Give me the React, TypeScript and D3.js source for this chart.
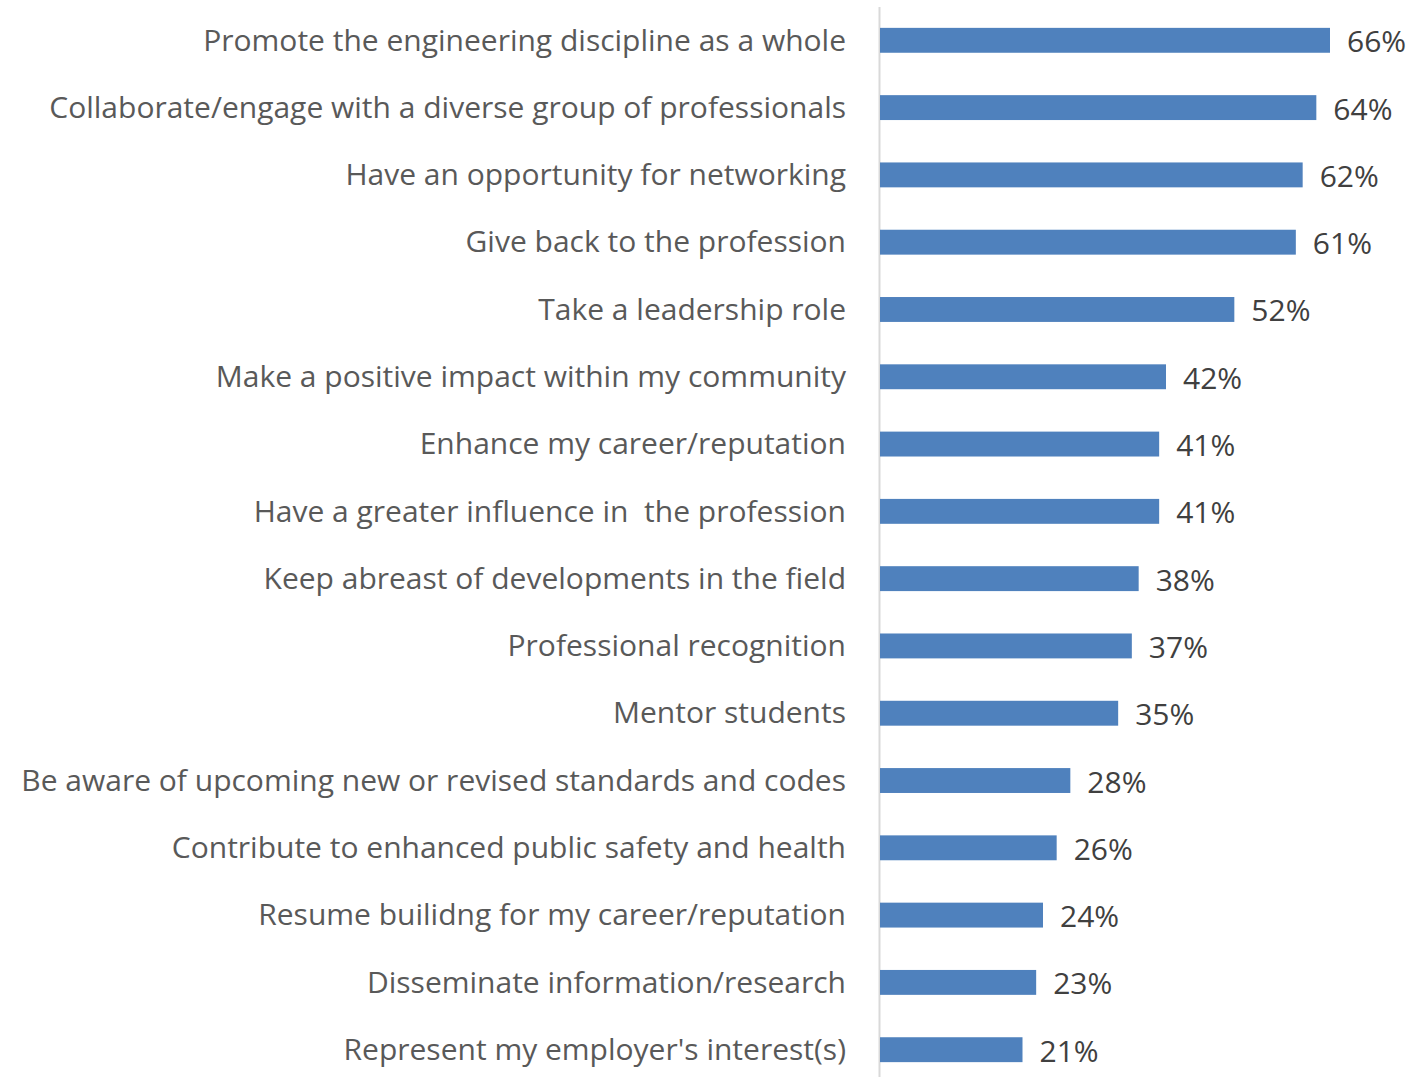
import React, { useEffect, useRef } from 'react';
import * as d3 from 'd3';

const categories = [
  'Promote the engineering discipline as a whole',
  'Collaborate/engage with a diverse group of professionals',
  'Have an opportunity for networking',
  'Give back to the profession',
  'Take a leadership role',
  'Make a positive impact within my community',
  'Enhance my career/reputation',
  'Have a greater influence in  the profession',
  'Keep abreast of developments in the field',
  'Professional recognition',
  'Mentor students',
  'Be aware of upcoming new or revised standards and codes',
  'Contribute to enhanced public safety and health',
  'Resume builidng for my career/reputation',
  'Disseminate information/research',
  "Represent my employer's interest(s)",
];

const values = [66, 64, 62, 61, 52, 42, 41, 41, 38, 37, 35, 28, 26, 24, 23, 21];

const App: React.FC = () => {
  const svgRef = useRef<SVGSVGElement>(null);

  useEffect(() => {
    const width = 1424;
    const height = 1077;
    const x0 = 879;

    const svg = d3.select(svgRef.current)
      .attr('width', width)
      .attr('height', height)
      .style('position', 'absolute')
      .style('left', 0)
      .style('top', 0);
    svg.selectAll('*').remove();

    const x = d3.scaleLinear().domain([0, 66]).range([x0, 1330]);
    const y = d3.scaleBand()
      .domain(categories)
      .range([7, 1083])
      .paddingInner(0.63)
      .paddingOuter(0.31);

    const data = categories.map((c, i) => ({ c, v: values[i] }));

    svg.append('line')
      .attr('x1', x0 + 0.5).attr('x2', x0 + 0.5)
      .attr('y1', 7).attr('y2', 1077)
      .attr('stroke', '#d9d9d9')
      .attr('stroke-width', 2);

    svg.selectAll('.bar')
      .data(data)
      .enter().append('rect')
      .attr('class', 'bar')
      .attr('x', x0 + 1)
      .attr('y', d => y(d.c)!)
      .attr('width', d => x(d.v) - x0 - 1)
      .attr('height', y.bandwidth())
      .attr('fill', '#4f81bd');

    svg.selectAll('.cat')
      .data(data)
      .enter().append('text')
      .attr('class', 'cat')
      .attr('x', 846)
      .attr('y', d => y(d.c)! + y.bandwidth() / 2)
      .attr('dy', '0.34em')
      .attr('text-anchor', 'end')
      .attr('font-family', 'Open Sans, sans-serif')
      .attr('font-size', 30)
      .attr('fill', '#595959')
      .style('white-space', 'pre')
      .text(d => d.c);

    svg.selectAll('.val')
      .data(data)
      .enter().append('text')
      .attr('class', 'val')
      .attr('x', d => x(d.v) + 17)
      .attr('y', d => y(d.c)! + y.bandwidth() / 2)
      .attr('dy', '0.4em')
      .attr('font-family', 'Open Sans, sans-serif')
      .attr('font-size', 30)
      .attr('fill', '#404040')
      .text(d => `${d.v}%`);
  }, []);

  return <svg ref={svgRef}></svg>;
};

export default App;
